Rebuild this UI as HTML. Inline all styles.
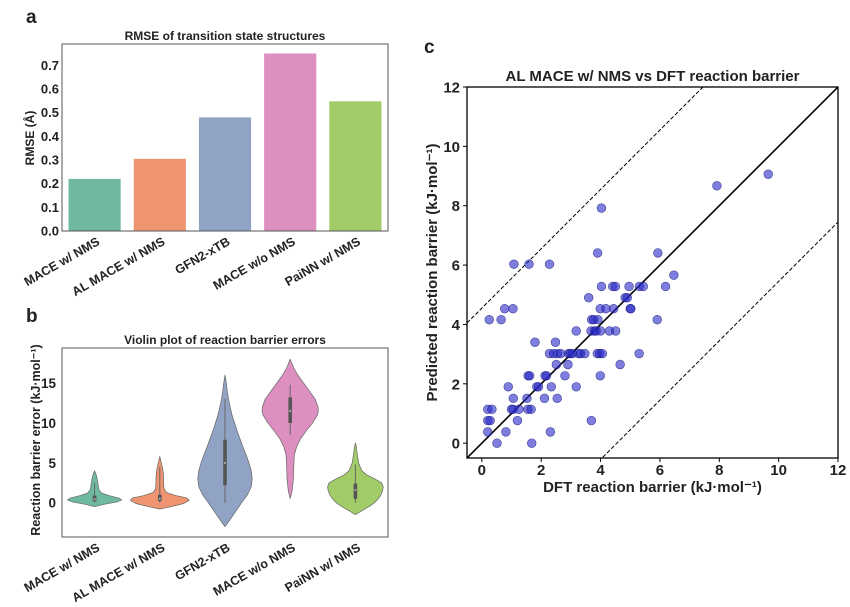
<!DOCTYPE html>
<html><head><meta charset="utf-8">
<style>
html,body{margin:0;padding:0;background:#fff;}
svg{display:block;font-family:"Liberation Sans",sans-serif;}
text{font-weight:bold;fill:#222;}
</style></head>
<body>
<svg id="fig" width="850" height="607" viewBox="0 0 850 607">
<text x="26" y="23" font-size="19">a</text>
<text x="26" y="322" font-size="19">b</text>
<text x="424" y="53" font-size="19">c</text>
<g id="barG"></g>
<g id="vioG"></g>
<g id="scG"></g>
</svg>
<script>
const NS='http://www.w3.org/2000/svg';
function mk(p,tag,attrs,txt){const e=document.createElementNS(NS,tag);for(const k in attrs)e.setAttribute(k,attrs[k]);if(txt!==undefined)e.textContent=txt;p.appendChild(e);return e;}

// ---- data ----
const categories=['MACE w/ NMS','AL MACE w/ NMS','GFN2-xTB','MACE w/o NMS','PaiNN w/ NMS'];
const colors=['#6fb9a0','#ee9470','#91a3c4','#dd8fc0','#a2cc67'];
const rmseValues=[0.22,0.305,0.48,0.75,0.548];
const rmseTicks=[0.0,0.1,0.2,0.3,0.4,0.5,0.6,0.7];
const violinTicks=[0,5,10,15];
const violinVals=[
 [-0.5,-0.2,0.1,0.35,0.6,0.9,1.2,1.6,2,2.5,3,3.5,4],
 [-0.8,-0.5,-0.1,0.3,0.6,0.9,1.3,1.8,2.5,3.2,4,4.8,5.8],
 [-3,-2,-1,0,1,2,3,4,5,6,7,8,9,10,11,12,13,14,15,16],
 [0.5,1.5,3,4.5,6,7,8,9,10,11,11.5,12,13,14,15,16,17,18],
 [-1.5,-1,-0.5,0,0.5,1,1.5,2,2.5,3,3.5,4,5,6,7,7.5]];
const violinWidths=[
 [0,0.3,0.7,0.85,0.75,0.45,0.22,0.14,0.12,0.1,0.08,0.05,0],
 [0,0.35,0.75,0.92,0.85,0.5,0.2,0.13,0.12,0.12,0.1,0.06,0],
 [0,0.18,0.35,0.52,0.7,0.82,0.85,0.82,0.75,0.66,0.56,0.47,0.38,0.3,0.22,0.16,0.11,0.07,0.04,0],
 [0,0.06,0.1,0.11,0.13,0.2,0.32,0.5,0.7,0.85,0.88,0.87,0.78,0.6,0.42,0.24,0.1,0],
 [0,0.2,0.42,0.6,0.72,0.8,0.85,0.87,0.82,0.6,0.35,0.2,0.1,0.06,0.03,0]];
const boxQ1=[0.2,0.2,2.2,10,0.5];
const boxQ3=[0.9,1,7.9,13.2,2.4];
const boxLo=[0,0,0,8.5,0];
const boxHi=[2.5,4.5,13,14.8,4.8];
const medians=[0.45,0.5,5,11.5,1.6];
const dftX=[9.65,7.92,4.03,3.9,5.93,1.08,1.59,2.28,6.47,4.03,4.41,4.5,4.96,5.31,5.44,6.19,3.6,4.83,4.9,0.77,1.05,3.99,4.18,4.44,5.0,5.02,0.25,0.65,3.7,3.77,3.91,5.91,3.18,3.68,3.8,3.85,4.0,4.3,4.51,1.79,2.48,2.28,2.42,2.55,2.66,2.92,2.98,3.05,3.26,3.33,3.47,3.89,3.97,4.06,5.3,2.51,2.9,4.66,1.56,1.61,2.13,2.18,2.8,3.99,0.89,1.85,1.91,2.34,3.18,1.06,1.52,2.11,2.54,0.2,0.34,1.0,1.06,1.25,1.55,1.66,0.2,0.28,1.2,3.69,0.2,0.81,2.31,0.51,1.68];
const predY=[9.06,8.67,7.92,6.41,6.41,6.03,6.03,6.03,5.66,5.28,5.28,5.28,5.28,5.28,5.28,5.28,4.9,4.9,4.9,4.53,4.53,4.53,4.53,4.53,4.53,4.53,4.16,4.16,4.16,4.16,4.16,4.16,3.78,3.78,3.78,3.78,3.78,3.78,3.78,3.4,3.4,3.02,3.02,3.02,3.02,3.02,3.02,3.02,3.02,3.02,3.02,3.02,3.02,3.02,3.02,2.65,2.65,2.65,2.27,2.27,2.27,2.27,2.27,2.27,1.9,1.9,1.9,1.9,1.9,1.51,1.51,1.51,1.51,1.14,1.14,1.14,1.14,1.14,1.14,1.14,0.76,0.76,0.76,0.76,0.38,0.38,0.38,0,0];
const scTicks=[0,2,4,6,8,10,12];
const bandOffset=4.55;

// ---- Panel a ----
(function(){
 const g=document.getElementById('barG');
 const L=62,R=388,T=44,B=231;
 const xs=i=>L+(i+0.5)*(R-L)/5, ys=v=>B-(v/0.79)*(B-T);
 const bw=0.8*(R-L)/5;
 mk(g,'text',{x:(L+R)/2,y:40,'font-size':12,'text-anchor':'middle',},'RMSE of transition state structures');
 rmseValues.forEach((v,i)=>{const r=mk(g,'rect',{x:xs(i)-bw/2,y:ys(v),width:bw,height:B-ys(v),fill:colors[i]});
  
  });
 mk(g,'rect',{x:L,y:T,width:R-L,height:B-T,fill:'none',stroke:'#555','stroke-width':1,});
 rmseTicks.forEach(t=>{const tx=mk(g,'text',{x:L-3,y:ys(t)+4.5,'font-size':13,'text-anchor':'end'},t.toFixed(1));
  
  });
 mk(g,'text',{transform:'translate(34,138) rotate(-90)','font-size':12,'text-anchor':'middle',},'RMSE (Å)');
 categories.forEach((c,i)=>{const tx=mk(g,'text',{transform:`translate(${xs(i)+6},${B+13}) rotate(-30)`,'font-size':12.5,'text-anchor':'end'},c);
  
  });
})();

// ---- Panel b ----
(function(){
 const g=document.getElementById('vioG');
 const L=62,R=388,T=348,B=537;
 const ymin=-4.3,ymax=19.4;
 const xs=i=>L+(i+0.5)*(R-L)/5, ys=v=>B-(v-ymin)/(ymax-ymin)*(B-T);
 const hw=32;
 mk(g,'text',{x:(L+R)/2,y:344,'font-size':12,'text-anchor':'middle',},'Violin plot of reaction barrier errors');
 categories.forEach((c,i)=>{
  const v=violinVals[i],w=violinWidths[i],cx=xs(i);
  let d='M'+cx+','+ys(v[0]);
  for(let k=0;k<v.length;k++)d+=' L'+(cx+w[k]*hw)+','+ys(v[k]);
  for(let k=v.length-1;k>=0;k--)d+=' L'+(cx-w[k]*hw)+','+ys(v[k]);
  const p=mk(g,'path',{d:d+'Z',fill:colors[i],stroke:'#666','stroke-width':0.7,'stroke-linejoin':'round'});
  
  
  mk(g,'line',{x1:cx,x2:cx,y1:ys(boxLo[i]),y2:ys(boxHi[i]),stroke:'#666','stroke-width':1});
  mk(g,'rect',{x:cx-1.8,y:ys(boxQ3[i]),width:3.6,height:ys(boxQ1[i])-ys(boxQ3[i]),fill:'#555'});
  mk(g,'circle',{cx:cx,cy:ys(medians[i]),r:1,fill:'#bbb'});
 });
 mk(g,'rect',{x:L,y:T,width:R-L,height:B-T,fill:'none',stroke:'#555','stroke-width':1,});
 violinTicks.forEach(t=>{const tx=mk(g,'text',{x:L-6,y:ys(t)+5,'font-size':13.5,'text-anchor':'end'},String(t));
  
  });
 mk(g,'text',{transform:'translate(40,440) rotate(-90)','font-size':12.5,'text-anchor':'middle',},'Reaction barrier error (kJ·mol⁻¹)');
 categories.forEach((c,i)=>{const tx=mk(g,'text',{transform:`translate(${xs(i)+6},${B+13}) rotate(-30)`,'font-size':12.5,'text-anchor':'end'},c);
  
  });
})();

// ---- Panel c ----
(function(){
 const g=document.getElementById('scG');
 const L=467,R=838,T=87,B=458,mn=-0.5,mx=12;
 const xs=v=>L+(v-mn)/(mx-mn)*(R-L), ys=v=>B-(v-mn)/(mx-mn)*(B-T);
 mk(g,'text',{x:(L+R)/2,y:81,'font-size':15,'text-anchor':'middle',},'AL MACE w/ NMS vs DFT reaction barrier');
 const clip=mk(g,'clipPath',{id:'scClip'});mk(clip,'rect',{x:L,y:T,width:R-L,height:B-T});
 const lg=mk(g,'g',{'clip-path':'url(#scClip)'});
 mk(lg,'line',{x1:xs(mn),y1:ys(mn),x2:xs(mx),y2:ys(mx),stroke:'#000','stroke-width':1.6,});
 mk(lg,'line',{x1:xs(mn),y1:ys(mn+bandOffset),x2:xs(mx),y2:ys(mx+bandOffset),stroke:'#000','stroke-width':1,'stroke-dasharray':'4,2',});
 mk(lg,'line',{x1:xs(mn),y1:ys(mn-bandOffset),x2:xs(mx),y2:ys(mx-bandOffset),stroke:'#000','stroke-width':1,'stroke-dasharray':'4,2',});
 dftX.forEach((x,i)=>{const c=mk(lg,'circle',{cx:xs(x),cy:ys(predY[i]),r:4.4,fill:'rgba(40,40,200,0.6)',stroke:'rgba(20,20,120,0.7)','stroke-width':0.6});
  
  });
 mk(g,'rect',{x:L,y:T,width:R-L,height:B-T,fill:'none',stroke:'#000','stroke-width':1.3,});
 scTicks.forEach(t=>{
  mk(g,'line',{x1:L,x2:L-4,y1:ys(t),y2:ys(t),stroke:'#000'});
  mk(g,'line',{x1:xs(t),x2:xs(t),y1:B,y2:B+4,stroke:'#000'});
  const a=mk(g,'text',{x:L-7,y:ys(t)+5.5,'font-size':15,'text-anchor':'end'},String(t));
  
  
  const b=mk(g,'text',{x:xs(t),y:B+17,'font-size':15,'text-anchor':'middle'},String(t));
  
  
 });
 mk(g,'text',{x:(L+R)/2,y:492,'font-size':15,'text-anchor':'middle',},'DFT reaction barrier (kJ·mol⁻¹)');
 mk(g,'text',{transform:`translate(437,${(T+B)/2}) rotate(-90)`,'font-size':15,'text-anchor':'middle',},'Predicted reaction barrier (kJ·mol⁻¹)');
})();
</script>
</body></html>
